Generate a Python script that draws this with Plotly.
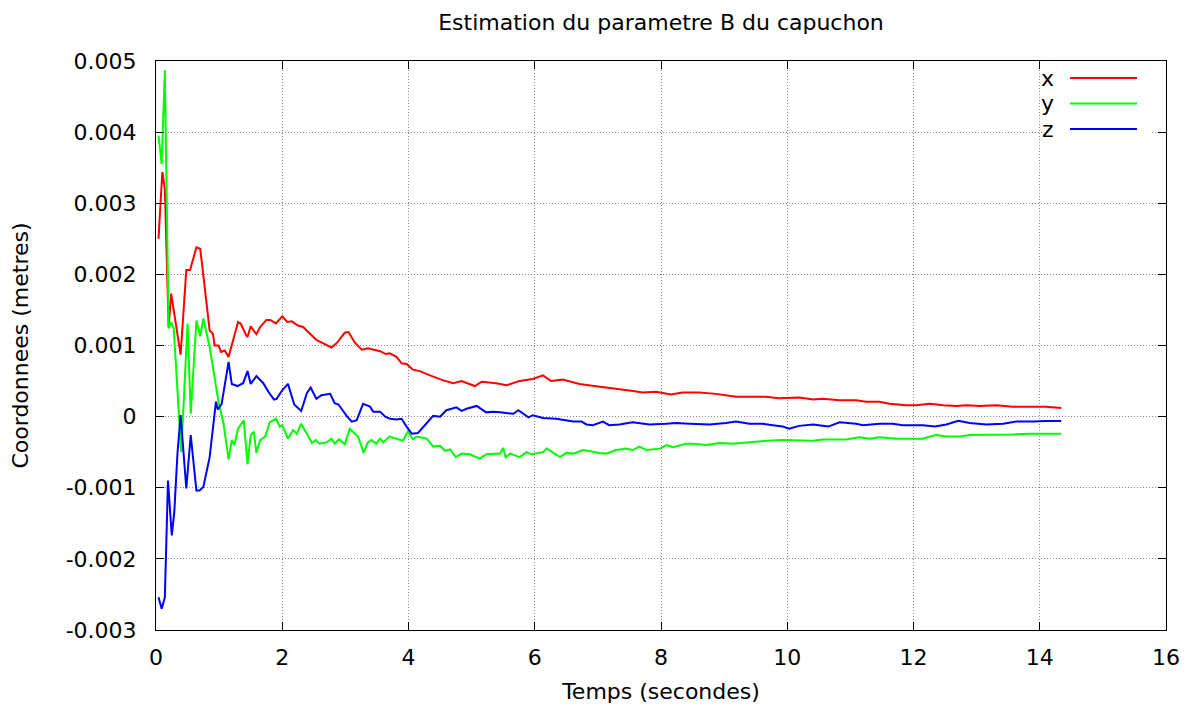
import plotly.graph_objects as go

# ---------------- data ----------------
t_x = [0.04, 0.10, 0.14, 0.20, 0.24, 0.39, 0.48, 0.54, 0.64, 0.70, 0.75, 0.85, 0.90, 0.93, 0.99,
       1.03, 1.09, 1.15, 1.30, 1.34, 1.43, 1.45, 1.50, 1.59, 1.65, 1.75, 1.81, 1.90, 2.00, 2.08,
       2.15, 2.25, 2.33, 2.54, 2.65, 2.78, 2.86, 2.99, 3.05, 3.15, 3.26, 3.36, 3.55, 3.64, 3.70,
       3.81, 3.89, 3.97, 4.07, 4.18, 4.34, 4.55, 4.71, 4.84, 5.05, 5.16, 5.39, 5.55, 5.76, 5.97,
       6.13, 6.26, 6.44, 6.71, 7.03, 7.34, 7.56, 7.71, 7.92, 8.16, 8.34, 8.61, 8.87, 9.19, 9.45,
       9.66, 9.87, 10.19, 10.41, 10.56, 10.83, 11.09, 11.25, 11.46, 11.62, 11.88, 12.04, 12.26,
       12.47, 12.68, 12.84, 13.05, 13.31, 13.57, 13.83, 14.10, 14.34]
x_vals = [0.00250, 0.00344, 0.00320, 0.00126, 0.00173, 0.00087, 0.00206, 0.00206, 0.00238, 0.00236,
          0.00199, 0.00121, 0.00117, 0.00100, 0.00100, 0.00091, 0.00093, 0.00084, 0.00133, 0.00131,
          0.00114, 0.00112, 0.00127, 0.00116, 0.00126, 0.00136, 0.00136, 0.00131, 0.00141, 0.00133,
          0.00134, 0.00128, 0.00126, 0.00108, 0.00103, 0.00097, 0.00103, 0.00118, 0.00119, 0.00104,
          0.00094, 0.00096, 0.00092, 0.00088, 0.00089, 0.00084, 0.00075, 0.00074, 0.00066, 0.00064,
          0.00058, 0.00051, 0.00047, 0.00050, 0.00043, 0.00049, 0.00047, 0.00044, 0.00050, 0.00053,
          0.00058, 0.00050, 0.00052, 0.00046, 0.00042, 0.00039, 0.00036, 0.00034, 0.00035, 0.00031,
          0.00034, 0.00034, 0.00032, 0.00028, 0.00028, 0.00028, 0.00026, 0.00027, 0.00024, 0.00025,
          0.00023, 0.00023, 0.00021, 0.00021, 0.00018, 0.00016, 0.00016, 0.00018, 0.00016, 0.00015,
          0.00016, 0.00015, 0.00016, 0.00014, 0.00014, 0.00014, 0.00012]

t_y = [0.04, 0.09, 0.14, 0.20, 0.24, 0.28, 0.40, 0.50, 0.55, 0.64, 0.70, 0.75, 0.85, 0.99, 1.07,
       1.15, 1.20, 1.24, 1.30, 1.39, 1.45, 1.50, 1.55, 1.59, 1.65, 1.73, 1.80, 1.90, 1.96, 2.00,
       2.09, 2.17, 2.23, 2.30, 2.39, 2.47, 2.53, 2.59, 2.70, 2.78, 2.83, 2.90, 2.99, 3.07, 3.15,
       3.20, 3.29, 3.35, 3.41, 3.49, 3.55, 3.60, 3.70, 3.81, 3.91, 3.99, 4.07, 4.13, 4.29, 4.39,
       4.50, 4.58, 4.66, 4.75, 4.84, 4.97, 5.13, 5.23, 5.45, 5.50, 5.54, 5.61, 5.76, 5.87, 5.95,
       6.13, 6.19, 6.40, 6.50, 6.61, 6.77, 7.03, 7.13, 7.29, 7.45, 7.55, 7.66, 7.77, 7.98, 8.09,
       8.19, 8.40, 8.51, 8.72, 8.93, 9.14, 9.40, 9.67, 9.93, 10.19, 10.41, 10.56, 10.72, 10.93,
       11.14, 11.30, 11.46, 11.73, 11.99, 12.15, 12.26, 12.36, 12.52, 12.73, 12.89, 13.15, 13.36,
       13.57, 13.84, 14.10, 14.34]
y_vals = [0.00395, 0.00355, 0.00487, 0.00124, 0.00133, 0.00124, -0.00050, 0.00131, 0.00004, 0.00135,
          0.00113, 0.00138, 0.00098, 0.00021, -0.00010, -0.00060, -0.00033, -0.00040, -0.00017,
          -0.00005, -0.00067, -0.00026, -0.00021, -0.00051, -0.00033, -0.00028, -0.00008, -0.00003,
          -0.00014, -0.00012, -0.00031, -0.00019, -0.00024, -0.00010, -0.00024, -0.00037, -0.00033,
          -0.00038, -0.00036, -0.00031, -0.00038, -0.00032, -0.00039, -0.00017, -0.00024, -0.00028,
          -0.00051, -0.00037, -0.00033, -0.00038, -0.00031, -0.00036, -0.00028, -0.00031, -0.00034,
          -0.00021, -0.00032, -0.00028, -0.00031, -0.00042, -0.00041, -0.00048, -0.00046, -0.00057,
          -0.00052, -0.00053, -0.00059, -0.00053, -0.00052, -0.00044, -0.00057, -0.00052, -0.00057,
          -0.00050, -0.00053, -0.00050, -0.00045, -0.00057, -0.00051, -0.00052, -0.00047, -0.00051,
          -0.00052, -0.00047, -0.00045, -0.00047, -0.00042, -0.00047, -0.00045, -0.00040, -0.00043,
          -0.00038, -0.00038, -0.00040, -0.00037, -0.00038, -0.00036, -0.00034, -0.00033, -0.00033,
          -0.00034, -0.00032, -0.00032, -0.00032, -0.00029, -0.00031, -0.00029, -0.00031, -0.00031,
          -0.00031, -0.00028, -0.00026, -0.00028, -0.00028, -0.00026, -0.00026, -0.00025, -0.00025,
          -0.00024, -0.00024, -0.00024]

t_z = [0.04, 0.09, 0.14, 0.19, 0.25, 0.29, 0.34, 0.39, 0.48, 0.55, 0.64, 0.69, 0.75, 0.85, 0.95,
       0.98, 1.04, 1.15, 1.20, 1.29, 1.38, 1.45, 1.50, 1.59, 1.70, 1.78, 1.87, 1.91, 2.00, 2.09,
       2.19, 2.30, 2.39, 2.45, 2.54, 2.62, 2.76, 2.83, 2.89, 3.02, 3.10, 3.18, 3.28, 3.39, 3.44,
       3.55, 3.63, 3.71, 3.81, 3.89, 3.97, 4.05, 4.15, 4.26, 4.39, 4.50, 4.60, 4.76, 4.84, 4.92,
       5.08, 5.23, 5.34, 5.45, 5.66, 5.74, 5.90, 5.97, 6.13, 6.34, 6.61, 6.74, 6.82, 6.92, 7.08,
       7.18, 7.34, 7.55, 7.82, 8.08, 8.24, 8.45, 8.77, 9.03, 9.19, 9.40, 9.61, 9.77, 9.93, 10.03,
       10.19, 10.41, 10.65, 10.83, 11.09, 11.20, 11.46, 11.67, 11.83, 12.15, 12.34, 12.52, 12.71,
       12.89, 13.15, 13.42, 13.63, 13.89, 14.10, 14.34]
z_vals = [-0.00254, -0.00270, -0.00254, -0.00090, -0.00167, -0.00134, -0.00052, 0.00002, -0.00101,
          -0.00026, -0.00104, -0.00104, -0.00099, -0.00057, 0.00021, 0.00010, 0.00018, 0.00077,
          0.00046, 0.00043, 0.00047, 0.00064, 0.00046, 0.00057, 0.00047, 0.00035, 0.00024, 0.00025,
          0.00037, 0.00046, 0.00017, 0.00008, 0.00033, 0.00041, 0.00025, 0.00030, 0.00032, 0.00019,
          0.00017, 0.00001, -0.00007, -0.00005, 0.00018, 0.00014, 0.00007, 0.00007, 0.00000,
          -0.00003, -0.00004, -0.00003, -0.00014, -0.00024, -0.00023, -0.00012, 0.00001, 0.00000,
          0.00009, 0.00013, 0.00008, 0.00011, 0.00015, 0.00006, 0.00007, 0.00006, 0.00004, 0.00009,
          -0.00001, 0.00002, -0.00002, -0.00003, -0.00007, -0.00007, -0.00011, -0.00012, -0.00007,
          -0.00012, -0.00011, -0.00008, -0.00011, -0.00010, -0.00009, -0.00010, -0.00011, -0.00009,
          -0.00007, -0.00010, -0.00010, -0.00012, -0.00014, -0.00017, -0.00013, -0.00011, -0.00014,
          -0.00008, -0.00010, -0.00012, -0.00010, -0.00010, -0.00012, -0.00012, -0.00014, -0.00011,
          -0.00006, -0.00009, -0.00011, -0.00010, -0.00007, -0.00007, -0.00006, -0.00006]

series_names = ["x", "y", "z"]
series_colors = ["#ff0000", "#00ff00", "#0000ff"]

x_tickvals = [0, 2, 4, 6, 8, 10, 12, 14, 16]
y_tickvals = [0.005, 0.004, 0.003, 0.002, 0.001, 0, -0.001, -0.002, -0.003]
y_ticktext = ["0.005", "0.004", "0.003", "0.002", "0.001", "0", "-0.001", "-0.002", "-0.003"]

title_text = "Estimation du parametre B du capuchon"
xlabel = "Temps (secondes)"
ylabel = "Coordonnees (metres)"

# ---------------- figure ----------------
FONT = "DejaVu Sans"
W, H = 1192, 711
L, R, T, B = 156, 26, 61, 81
PW, PH = W - L - R, H - T - B

fig = go.Figure()
for tt, vv, name, col in zip([t_x, t_y, t_z], [x_vals, y_vals, z_vals], series_names, series_colors):
    fig.add_trace(go.Scatter(x=tt, y=vv, mode="lines", name=name,
                             line=dict(color=col, width=2), showlegend=False))

axis_common = dict(
    showline=True, linecolor="black", linewidth=1, mirror="allticks",
    ticks="inside", ticklen=8, tickcolor="black", tickwidth=1,
    showgrid=True, gridcolor="#8a8a8a", griddash="1px,2px", gridwidth=1,
    zeroline=False, tickfont=dict(family=FONT, size=22, color="black"),
)

fig.update_xaxes(range=[0, 16], tickvals=x_tickvals, ticktext=[str(v) for v in x_tickvals],
                 ticklabelstandoff=8,
                 title=dict(text=xlabel, font=dict(family=FONT, size=22, color="black"), standoff=14),
                 **axis_common)
fig.update_yaxes(range=[-0.003, 0.005], tickvals=y_tickvals, ticktext=y_ticktext,
                 ticklabelstandoff=14,
                 title=dict(text=ylabel, font=dict(family=FONT, size=22, color="black"), standoff=30),
                 **axis_common)

# legend drawn manually (text left of the line sample, gnuplot style)
def px2paper_x(px):
    return (px - L) / PW

def py2paper_y(py):
    return (H - B - py) / PH

shapes = [dict(type="rect", xref="paper", yref="paper", layer="above",
               x0=px2paper_x(1042), x1=px2paper_x(1150), y0=py2paper_y(143), y1=py2paper_y(62),
               fillcolor="white", line=dict(width=0))]
annotations = []
for i, (name, col) in enumerate(zip(series_names, series_colors)):
    yy = py2paper_y(78 + i * 25.5)
    shapes.append(dict(type="line", xref="paper", yref="paper", layer="above",
                       x0=px2paper_x(1070), x1=px2paper_x(1137), y0=yy, y1=yy,
                       line=dict(color=col, width=2)))
    annotations.append(dict(text=name, xref="paper", yref="paper", x=px2paper_x(1056), y=yy,
                            xanchor="right", yanchor="middle", showarrow=False,
                            font=dict(family=FONT, size=22, color="black")))

fig.update_layout(
    width=W, height=H,
    margin=dict(l=L, r=R, t=T, b=B, autoexpand=False),
    paper_bgcolor="white", plot_bgcolor="white",
    title=dict(text=title_text, x=0.5, xref="paper", xanchor="center",
               y=(H - 22) / H, yref="container", yanchor="middle",
               font=dict(family=FONT, size=22, color="black")),
    shapes=shapes, annotations=annotations, showlegend=False,
)

fig.write_html("out.html", config={"displayModeBar": False},
               post_script="document.body.style.margin='0px';document.body.style.overflow='hidden';")
